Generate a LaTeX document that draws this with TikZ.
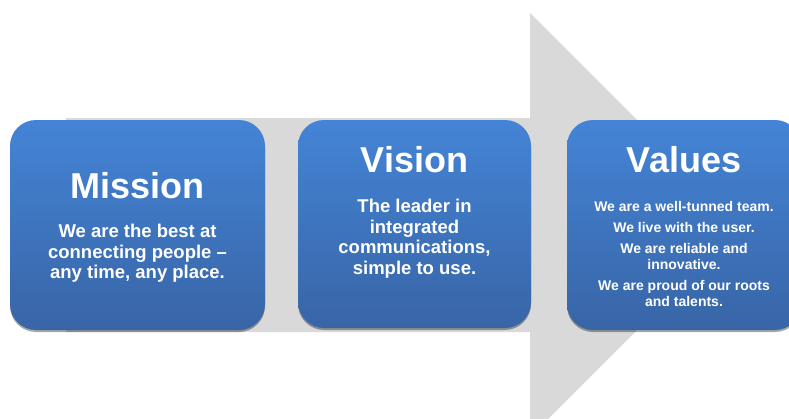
\documentclass[tikz,border=0pt]{standalone}
\usepackage{fontspec}
\setmainfont{Liberation Sans}
\usetikzlibrary{shadows}
\definecolor{boxtop}{HTML}{4484D6}
\definecolor{boxbottom}{HTML}{3865A6}
\definecolor{arrowgray}{HTML}{D9D9D9}
\tikzset{
  card/.style={rounded corners=26pt, top color=boxtop, bottom color=boxbottom,
    draw=none, inner sep=0pt,
    drop shadow={shadow xshift=0pt, shadow yshift=-2pt, opacity=0.35, fill=black}},
  cardtitle/.style={text=white, anchor=base, inner sep=0pt,
    font=\bfseries\fontsize{36}{40}\selectfont},
  cardtext/.style={text=white, anchor=north, inner sep=0pt, align=center,
    font=\bfseries\fontsize{18.5}{20.5}\selectfont},
  cardsmall/.style={text=white, anchor=north, inner sep=0pt, align=center,
    font=\bfseries\fontsize{14}{16}\selectfont}
}
\begin{document}
\begin{tikzpicture}[x=1pt,y=-1pt]
  \clip (0,0) rectangle (789,418);
  \useasboundingbox (0,0) rectangle (789,418);
  % Background arrow
  \fill[arrowgray] (66,118) -- (530,118) -- (530,13) -- (742,225)
    -- (530,437) -- (530,332) -- (66,332) -- cycle;

  % Boxes
  \node[card, minimum width=255pt, minimum height=210pt] (mission) at (137.5,225) {};
  \node[card, minimum width=233pt, minimum height=208pt] (vision) at (414.5,224) {};
  \node[card, minimum width=234pt, minimum height=210pt] (values) at (684,225) {};

  % Mission
  \node[cardtitle] (missiontitle) at (137.5,198) {Mission};
  \node[cardtext] (missiontext) at (137.5,224)
    {We are the best at\\connecting people --\\any time, any place.};

  % Vision
  \node[cardtitle] (visiontitle) at (414.5,172) {Vision};
  \node[cardtext] (visiontext) at (414.5,199)
    {The leader in\\integrated\\communications,\\simple to use.};

  % Values
  \node[cardtitle] (valuestitle) at (684,172) {Values};
  \node[cardsmall] (valuestext) at (684,201)
    {We are a well-tunned team.\\[5pt]We live with the user.\\[5pt]We are reliable and\\innovative.\\[5pt]We are proud of our roots\\and talents.};
\end{tikzpicture}
\end{document}
